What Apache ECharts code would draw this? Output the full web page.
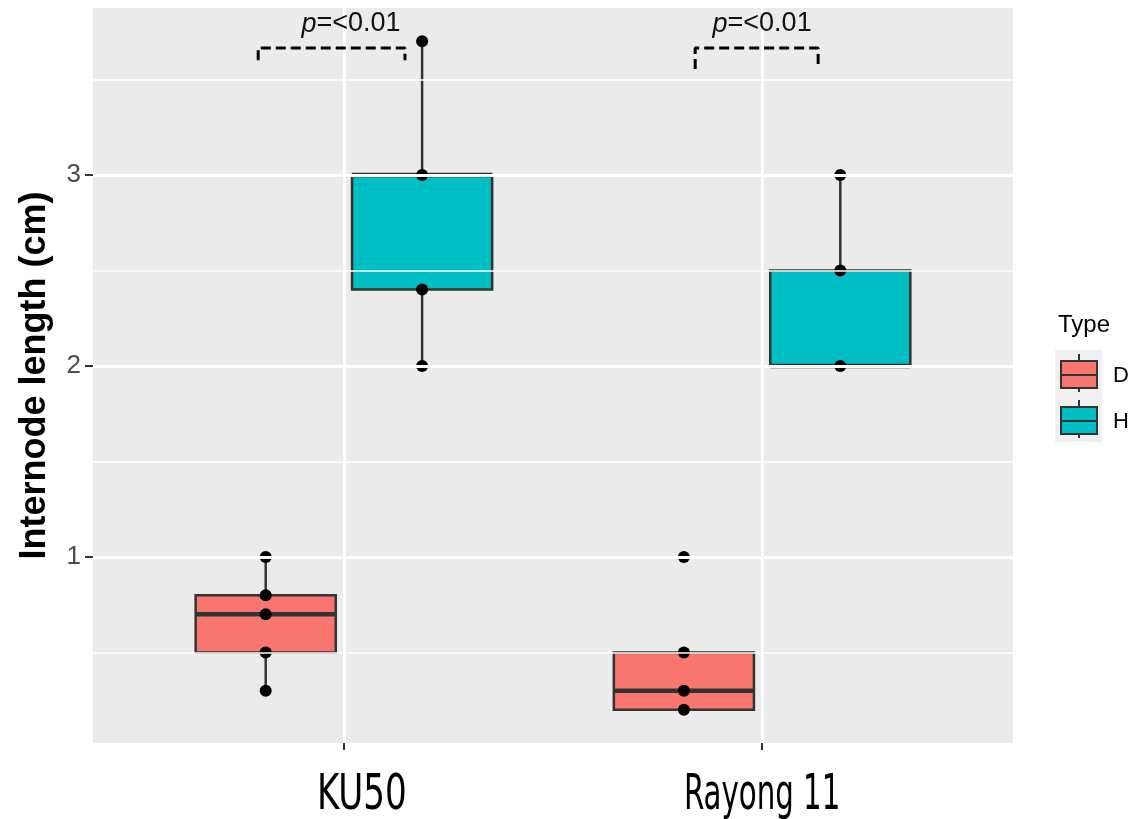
<!DOCTYPE html>
<html>
<head>
<meta charset="utf-8">
<script src="https://cdn.jsdelivr.net/npm/echarts@6/dist/echarts.min.js"></script>
<style>
html,body{margin:0;padding:0;background:#fff;}
#chart{width:1140px;height:819px;}
</style>
</head>
<body>
<div id="chart"></div>
<script>
// ---- data ----
const categories = ['KU50', 'Rayong 11'];
const types = ['D', 'H'];
// individual observations
const ku50D = [1.0, 0.8, 0.7, 0.5, 0.3];
const ku50H = [3.7, 3.0, 2.4, 2.0];
const rayongD = [1.0, 0.5, 0.3, 0.2];
const rayongH = [3.0, 2.5, 2.0];
// box statistics: [lowerWhisker, Q1, median, Q3, upperWhisker]
const boxKU50D = [0.3, 0.5, 0.7, 0.8, 1.0];
const boxKU50H = [2.0, 2.4, 3.0, 3.0, 3.7];
const boxRayongD = [0.2, 0.2, 0.3, 0.5, 0.5];
const boxRayongH = [2.0, 2.0, 2.0, 2.5, 3.0];
// axis ticks
const yMajorTicks = [1, 2, 3];
const yMinorTicks = [0.5, 1.5, 2.5, 3.5];
const yTickLabels = ['1', '2', '3'];
// significance annotations (data units)
const pLabels = ['<0.01', '<0.01'];
const bracketStart = [0.795, 1.84];
const bracketEnd = [1.146, 2.134];
const bracketTop = [3.665, 3.665];
const bracketTipLeft = [3.60, 3.555];
const bracketTipRight = [3.60, 3.555];
const pLabelX = [1.017, 2.0];
const pLabelY = [3.79, 3.79];

// ---- styling / layout constants ----
const fillColors = ['#F8766D', '#00BFC4'];
const dodge = [-0.187, 0.187];
const boxWidth = 0.335;
const catLabelShift = [18, 0];
const catLabelScale = [0.76, 0.65];

const groups = [
  {cat: 0, type: 0, pts: ku50D, box: boxKU50D},
  {cat: 0, type: 1, pts: ku50H, box: boxKU50H},
  {cat: 1, type: 0, pts: rayongD, box: boxRayongD},
  {cat: 1, type: 1, pts: rayongH, box: boxRayongH}
];

const boxData = groups.map(g => [g.cat + 1 + dodge[g.type]].concat(g.box).concat([g.type]));
const pointData = [];
groups.forEach(g => g.pts.forEach(v => pointData.push([g.cat + 1 + dodge[g.type], v])));

const chart = echarts.init(document.getElementById('chart'));

const gridLines = [];
yMajorTicks.forEach(v => gridLines.push({yAxis: v, lineStyle: {color: '#FFFFFF', width: 3, type: 'solid'}}));
yMinorTicks.forEach(v => gridLines.push({yAxis: v, lineStyle: {color: '#FFFFFF', width: 1.5, type: 'solid'}}));
categories.forEach((c, i) => gridLines.push({xAxis: i + 1, lineStyle: {color: '#FFFFFF', width: 3, type: 'solid'}}));

const bracketSeries = categories.map((c, i) => ({
  type: 'line',
  z: 6,
  silent: true,
  symbol: 'none',
  data: [
    [bracketStart[i], bracketTipLeft[i]],
    [bracketStart[i], bracketTop[i]],
    [bracketEnd[i], bracketTop[i]],
    [bracketEnd[i], bracketTipRight[i]]
  ],
  lineStyle: {color: '#000000', width: 3, type: [10, 5], opacity: 1}
}));

const option = {
  animation: false,
  backgroundColor: '#FFFFFF',
  grid: {
    left: 93, right: 127, top: 8, bottom: 76,
    containLabel: false,
    outerBoundsMode: 'none',
    show: true, backgroundColor: '#EBEBEB', borderWidth: 0
  },
  xAxis: {
    type: 'value',
    min: 0.4, max: 2.6,
    axisLine: {show: false},
    splitLine: {show: false},
    axisTick: {show: true, customValues: [1, 2], length: 7, lineStyle: {color: '#333333', width: 2}},
    axisLabel: {show: false, customValues: [1, 2]}
  },
  yAxis: {
    type: 'value',
    min: 0.026, max: 3.874,
    name: 'Internode length (cm)',
    nameLocation: 'middle',
    nameRotate: 90,
    nameGap: 40,
    nameTextStyle: {fontFamily: 'Liberation Sans, Arial, sans-serif', fontWeight: 'bold', fontSize: 36, color: '#000000'},
    axisLine: {show: false},
    splitLine: {show: false},
    axisTick: {show: true, customValues: yMajorTicks, length: 8, lineStyle: {color: '#333333', width: 2}},
    axisLabel: {
      customValues: yMajorTicks,
      formatter: v => yTickLabels[yMajorTicks.indexOf(v)],
      fontFamily: 'Liberation Sans, Arial, sans-serif',
      fontSize: 26, color: '#4D4D4D', margin: 12
    }
  },
  series: [
    {
      type: 'line', z: 1, silent: true, data: [], symbol: 'none',
      markLine: {silent: true, symbol: 'none', label: {show: false}, animation: false, data: gridLines}
    },
    {
      type: 'custom', z: 3, silent: true,
      data: boxData,
      renderItem: function (params, api) {
        const x = api.value(0);
        const lo = api.coord([x, api.value(1)]);
        const q1 = api.coord([x, api.value(2)]);
        const med = api.coord([x, api.value(3)]);
        const q3 = api.coord([x, api.value(4)]);
        const hi = api.coord([x, api.value(5)]);
        const t = api.value(6);
        const hw = api.size([boxWidth, 0])[0] / 2;
        const stroke = '#333333';
        return {
          type: 'group',
          children: [
            {type: 'line', shape: {x1: lo[0], y1: lo[1], x2: q1[0], y2: q1[1]}, style: {stroke: stroke, lineWidth: 2.5}},
            {type: 'line', shape: {x1: q3[0], y1: q3[1], x2: hi[0], y2: hi[1]}, style: {stroke: stroke, lineWidth: 2.5}},
            {type: 'rect', shape: {x: q3[0] - hw, y: q3[1], width: 2 * hw, height: q1[1] - q3[1]},
              style: {fill: fillColors[t], stroke: stroke, lineWidth: 2.5}},
            {type: 'line', shape: {x1: med[0] - hw, y1: med[1], x2: med[0] + hw, y2: med[1]}, style: {stroke: stroke, lineWidth: 4.5}}
          ]
        };
      }
    },
    {
      type: 'scatter', z: 4, silent: true,
      symbol: 'circle', symbolSize: 12,
      itemStyle: {color: '#000000', opacity: 1},
      data: pointData
    },
    {
      type: 'scatter', z: 6, silent: true,
      symbolSize: 0,
      itemStyle: {opacity: 1},
      data: categories.map((c, i) => [pLabelX[i], pLabelY[i], pLabels[i]]),
      label: {
        show: true, position: 'inside',
        formatter: p => '{i|p}{n|=' + p.value[2] + '}',
        rich: {
          i: {fontFamily: 'Liberation Sans, Arial, sans-serif', fontStyle: 'italic', fontSize: 27, color: '#111111'},
          n: {fontFamily: 'Liberation Sans, Arial, sans-serif', fontSize: 27, color: '#111111'}
        }
      }
    }
  ].concat(bracketSeries)
};

chart.setOption(option);

// x-axis category labels (condensed), positioned through the axis scale
const labelGraphics = categories.map((c, i) => {
  const px = chart.convertToPixel({gridIndex: 0}, [i + 1, 0.026]);
  return {
    type: 'text',
    x: px[0] + catLabelShift[i], y: 796,
    scaleX: catLabelScale[i],
    style: {
      text: c, fontFamily: '"Liberation Sans Narrow", "DejaVu Sans Condensed", sans-serif',
      fontSize: 50, fill: '#000000', align: 'center', verticalAlign: 'middle'
    }
  };
});

// legend
const legendGraphics = [
  {type: 'text', left: 1058, top: 313, style: {text: 'Type', fontFamily: 'Liberation Sans, Arial, sans-serif', fontSize: 24, fill: '#000000'}}
];
types.forEach((t, i) => {
  const y0 = 350 + i * 46;
  legendGraphics.push(
    {type: 'rect', shape: {x: 1055, y: y0, width: 47, height: 46}, style: {fill: '#F0F0F0'}},
    {type: 'line', shape: {x1: 1079, y1: y0 + 4, x2: 1079, y2: y0 + 42}, style: {stroke: '#333333', lineWidth: 2}},
    {type: 'rect', shape: {x: 1061, y: y0 + 11, width: 36, height: 27}, style: {fill: fillColors[i], stroke: '#333333', lineWidth: 2}},
    {type: 'line', shape: {x1: 1061, y1: y0 + 25, x2: 1097, y2: y0 + 25}, style: {stroke: '#333333', lineWidth: 2}},
    {type: 'text', x: 1113, y: y0 + 26, style: {text: t, fontFamily: 'Liberation Sans, Arial, sans-serif', fontSize: 22, fill: '#000000', verticalAlign: 'middle'}}
  );
});

chart.setOption({graphic: labelGraphics.concat(legendGraphics)});
</script>
</body>
</html>
